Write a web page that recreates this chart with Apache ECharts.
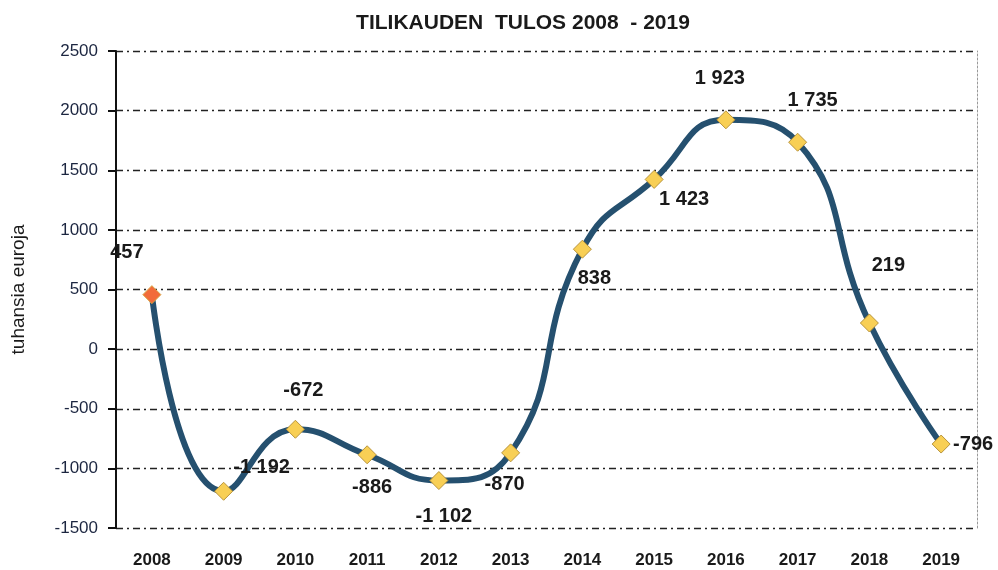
<!DOCTYPE html>
<html>
  <head>
    <meta charset="utf-8" />
    <title>Tilikauden tulos 2008 - 2019</title>
    <script src="https://cdn.jsdelivr.net/npm/echarts@6/dist/echarts.min.js"></script>
  </head>
  <body style="margin:0;background:#fff">
    <div id="main" style="width: 998px;height: 570px;"></div>
    <script type="text/javascript">
      var years = ['2008', '2009', '2010', '2011', '2012', '2013', '2014', '2015', '2016', '2017', '2018', '2019']
      var tulos = [457, -1192, -672, -886, -1102, -870, 838, 1423, 1923, 1735, 219, -796]
      var yTicks = { min: -1500, max: 2500, step: 500 }

      // label placement, relative to the marker centre (px)
      var labelShift = [[-25, -42], [38, -24], [8, -39], [5, 33], [5, 36], [-6, 32],
        [12, 29], [30, 20], [-6, -41], [15, -42], [19, -58], [32, 0]]

      function spaced(v) {
        var s = String(Math.abs(v))
        if (s.length > 3) s = s.slice(0, s.length - 3) + ' ' + s.slice(s.length - 3)
        return (v < 0 ? '-' : '') + s
      }

      var seriesData = tulos.map(function (v, i) {
        return {
          value: v,
          itemStyle: i === 0 ? { color: '#f26b3a', borderColor: '#d9a441' } : undefined,
          label: { offset: labelShift[i] }
        }
      })

      var myChart = echarts.init(document.getElementById('main'))
      var option = {
        animation: false,
        backgroundColor: '#fff',
        title: {
          text: 'TILIKAUDEN  TULOS 2008  - 2019',
          left: 518,
          top: 8,
          textAlign: 'center',
          textStyle: { fontFamily: 'Liberation Sans', fontWeight: 'bold', fontSize: 21, color: '#1a1a1a' }
        },
        grid: { left: 116, right: 21, top: 51, bottom: 42 },
        xAxis: {
          type: 'category',
          data: years,
          boundaryGap: true,
          axisLine: { show: false },
          axisTick: { show: false },
          axisLabel: {
            margin: 24,
            fontFamily: 'Liberation Sans',
            fontWeight: 'bold',
            fontSize: 17,
            color: '#1a1a1a'
          }
        },
        yAxis: [
          {
            type: 'value',
            min: yTicks.min,
            max: yTicks.max,
            interval: yTicks.step,
            name: 'tuhansia euroja',
            nameLocation: 'middle',
            nameGap: 88,
            nameRotate: 90,
            nameTextStyle: { fontFamily: 'Liberation Sans', fontSize: 19, color: '#1a1a1a' },
            axisLine: { show: true, lineStyle: { color: '#111', width: 2 } },
            axisTick: { show: true, length: 8, lineStyle: { color: '#111', width: 2 } },
            axisLabel: {
              margin: 18,
              fontFamily: 'Liberation Sans',
              fontSize: 17,
              color: '#1c2640',
              formatter: function (v) { return String(v) }
            },
            splitLine: {
              show: true,
              lineStyle: { color: '#222', width: 1.3, type: [7, 4, 2, 4] }
            }
          },
          {
            type: 'value',
            position: 'right',
            min: yTicks.min,
            max: yTicks.max,
            interval: yTicks.step,
            axisLine: { show: true, lineStyle: { color: '#999', width: 1, type: [2, 2] } },
            axisTick: { show: false },
            axisLabel: { show: false },
            splitLine: { show: false }
          }
        ],
        series: [
          {
            type: 'line',
            data: seriesData,
            smooth: 0.5,
            symbol: 'diamond',
            symbolSize: 18,
            z: 3,
            lineStyle: { color: '#25506f', width: 6 },
            itemStyle: { color: '#f8cf55', borderColor: '#b8943c', borderWidth: 1 },
            label: {
              show: true,
              position: 'inside',
              formatter: function (p) { return spaced(p.value) },
              fontFamily: 'Liberation Sans',
              fontWeight: 'bold',
              fontSize: 20,
              color: '#1a1a1a'
            }
          }
        ]
      }
      myChart.setOption(option)
    </script>
  </body>
</html>
